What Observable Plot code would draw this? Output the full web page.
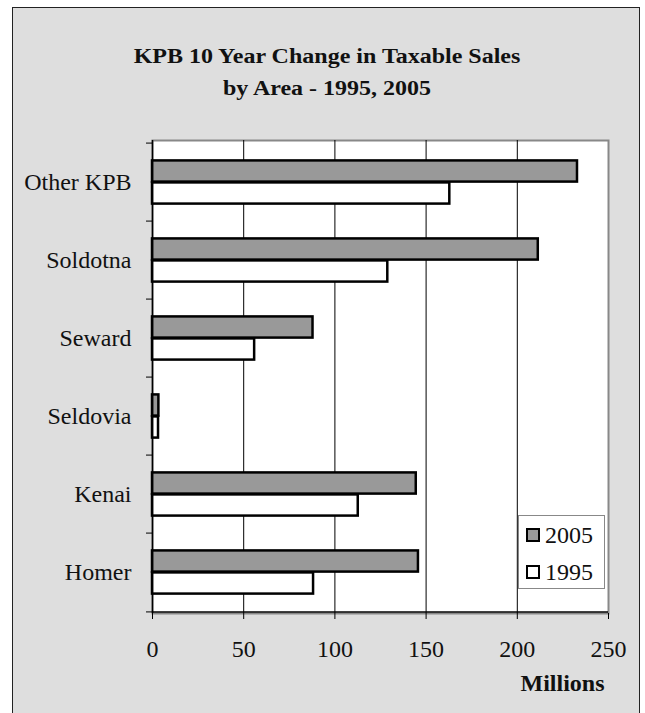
<!DOCTYPE html>
<html>
<head>
<meta charset="utf-8">
<script src="https://cdn.jsdelivr.net/npm/d3@7"></script>
<script src="https://cdn.jsdelivr.net/npm/@observablehq/plot@0.6"></script>
<style>
  html, body { margin: 0; padding: 0; background: #ffffff; }
  #wrap { position: relative; width: 645px; height: 713px; overflow: hidden; font-family: 'Liberation Serif', serif; }
  #bg { position: absolute; left: 12px; top: 7px; width: 626px; height: 760px; background: #dedede; border: 1.5px solid #222; }
  #title { position: absolute; left: 12px; width: 630px; top: 40px; text-align: center; font-family: 'Liberation Serif', serif; font-weight: bold; font-size: 20px; line-height: 32px; color: #111; transform: scaleX(1.2); transform-origin: 50% 0; }
  #chart { position: absolute; left: 0; top: 0; }
  #legend { position: absolute; left: 518px; top: 515px; width: 87px; height: 74px; background: #fff; border: 1px solid #888; box-sizing: border-box; font-family: 'Liberation Serif', serif; font-size: 24px; color: #111; }
  .item { position: absolute; left: 7px; display: flex; align-items: center; }
  .sw { width: 10px; height: 10px; border: 2px solid #000; margin-right: 5px; margin-top: -1px; }
</style>
</head>
<body>
<div id="wrap">
  <div id="bg"></div>
  <div id="title">KPB 10 Year Change in Taxable Sales<br>by Area - 1995, 2005</div>
  <div id="chart"></div>
  <div id="legend"></div>
</div>
<script>
const areas = ["Other KPB", "Soldotna", "Seward", "Seldovia", "Kenai", "Homer"];
const sales2005 = [233, 211.5, 88, 3.5, 144.6, 145.8];
const sales1995 = [163, 129, 56, 3.3, 112.8, 88.3];
const xTicks = [0, 50, 100, 150, 200, 250];
const gridTicks = [50, 100, 150, 200];
const seriesNames = ["2005", "1995"];
const seriesFill = ["#999999", "#ffffff"];
const xLabel = "Millions";

const data = [];
areas.forEach((a, i) => {
  data.push({area: a, series: "2005", value: sales2005[i]});
  data.push({area: a, series: "1995", value: sales1995[i]});
});

const W = 645, H = 713;
const mL = 152, mR = 37, mT = 140, mB = 100;
const bw = (H - mT - mB) / areas.length;
const barH = 22;
const gap = (bw - 2 * barH) / 2;

const font = "'Liberation Serif', serif";

const chart = Plot.plot({
  width: W,
  height: H,
  marginLeft: mL,
  marginRight: mR,
  marginTop: mT,
  marginBottom: mB,
  style: {background: "transparent", fontFamily: font, fontSize: "24px", color: "#111", overflow: "visible"},
  x: {domain: [0, 250], label: null},
  y: {domain: areas, padding: 0, label: null},
  marks: [
    Plot.frame({fill: "white", stroke: "#888", strokeWidth: 2}),
    Plot.gridX({ticks: gridTicks, stroke: "#000", strokeOpacity: 1, strokeWidth: 1}),
    Plot.barX(data.filter(d => d.series === "2005"), {
      x: "value", y: "area", fill: seriesFill[0], stroke: "#000", strokeWidth: 2.5,
      insetTop: gap, insetBottom: bw - gap - barH
    }),
    Plot.barX(data.filter(d => d.series === "1995"), {
      x: "value", y: "area", fill: seriesFill[1], stroke: "#000", strokeWidth: 2.5,
      insetTop: gap + barH, insetBottom: gap
    }),
    Plot.ruleX([0], {stroke: "#000", strokeWidth: 1.5}),
    Plot.ruleY([areas[areas.length - 1]], {y: d => d, dy: bw / 2, stroke: "#000", strokeWidth: 1.5}),
    Plot.axisY({tickSize: 0, tickPadding: 21, fontSize: 24, label: null}),
    Plot.axisY({tickSize: 6, tickFormat: () => "", dy: -bw / 2, label: null, stroke: "#000"}),
    Plot.axisY({ticks: [areas[areas.length - 1]], tickSize: 6, tickFormat: () => "", dy: bw / 2, label: null, stroke: "#000"}),
    Plot.axisX({ticks: xTicks, tickSize: 6, tickPadding: 20, fontSize: 24, label: null, stroke: "#000"}),
    Plot.text([xLabel], {frameAnchor: "bottom-right", dy: 77, dx: -4, textAnchor: "end", fontWeight: "bold", fontSize: 24})
  ]
});
document.getElementById("chart").appendChild(chart);

const legend = document.getElementById("legend");
seriesNames.forEach((s, i) => {
  const it = document.createElement("div");
  it.className = "item";
  it.style.top = (i === 0 ? 6 : 43) + "px";
  const sw = document.createElement("div");
  sw.className = "sw";
  sw.style.background = seriesFill[i];
  it.appendChild(sw);
  const t = document.createElement("span");
  t.textContent = s;
  it.appendChild(t);
  legend.appendChild(it);
});
</script>
</body>
</html>
